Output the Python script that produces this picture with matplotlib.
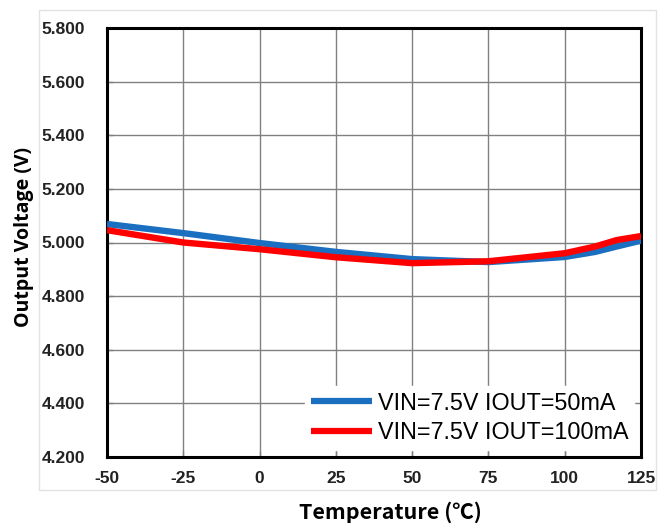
import matplotlib
matplotlib.use("Agg")
import matplotlib.pyplot as plt
from matplotlib.patches import Rectangle

# Data
temps = [-50, -25, 0, 25, 50, 75, 100, 110, 117, 125]
vout_50mA = [5.069, 5.035, 4.998, 4.965, 4.938, 4.927, 4.946, 4.965, 4.985, 5.007]
vout_100mA = [5.046, 5.000, 4.975, 4.945, 4.923, 4.930, 4.960, 4.985, 5.009, 5.024]
label_50 = "VIN=7.5V IOUT=50mA"
label_100 = "VIN=7.5V IOUT=100mA"
xticks = [-50, -25, 0, 25, 50, 75, 100, 125]
yticks = [4.2, 4.4, 4.6, 4.8, 5.0, 5.2, 5.4, 5.6, 5.8]
ytick_labels = ["4.200", "4.400", "4.600", "4.800", "5.000", "5.200", "5.400", "5.600", "5.800"]

fig = plt.figure(figsize=(6.7, 5.25), dpi=100)
ax = fig.add_axes([107/670, 1-457/525, (641-107)/670, (457-28)/525])

# light outer frame
fig.patches.append(Rectangle((39/670, 1-490/525), (656-39)/670, (490-10)/525,
                             transform=fig.transFigure, fill=False,
                             edgecolor="#e2e2e2", linewidth=1.0, zorder=0))

ax.plot(temps, vout_50mA, color="#1a6fc0", linewidth=4.6, solid_capstyle="butt",
        label=label_50, zorder=3)
ax.plot(temps, vout_100mA, color="#ff0000", linewidth=4.6, solid_capstyle="butt",
        label=label_100, zorder=4)

ax.set_xlim(-50, 125)
ax.set_ylim(4.2, 5.8)
ax.set_xticks(xticks)
ax.set_xticklabels([str(t) for t in xticks])
ax.set_yticks(yticks)
ax.set_yticklabels(ytick_labels)
ax.grid(True, color="#808080", linewidth=1.0)
ax.tick_params(direction="in", length=4, width=1, color="#808080")
ax.tick_params(axis="x", pad=10)
ax.tick_params(axis="y", pad=16)
for lab in ax.get_xticklabels() + ax.get_yticklabels():
    lab.set_fontfamily("Liberation Sans")
    lab.set_fontweight("bold")
    lab.set_fontsize(12.5)
    lab.set_color("#222222")
for sp in ax.spines.values():
    sp.set_linewidth(2.2)
    sp.set_color("black")

fig.text(390/670, 1-512/525, "Temperature (℃)", family=["Noto Sans CJK SC", "DejaVu Sans"],
         fontsize=15.5, fontweight="bold", ha="center", va="center")
fig.text(24/670, 1-237/525, "Output Voltage (V)", family=["Open Sans", "DejaVu Sans"],
         fontsize=14, fontweight="bold", ha="center", va="center", rotation=90)

leg = ax.legend(loc="lower right", frameon=True, fancybox=False, framealpha=1,
                edgecolor="white", facecolor="white",
                prop={"family": "Liberation Sans", "size": 16.8},
                handlelength=2.6, handletextpad=0.25, labelspacing=0.28,
                borderpad=0.25, borderaxespad=0.3)
for line in leg.get_lines():
    line.set_linewidth(4.5)

fig.savefig("out.png", dpi=100)
